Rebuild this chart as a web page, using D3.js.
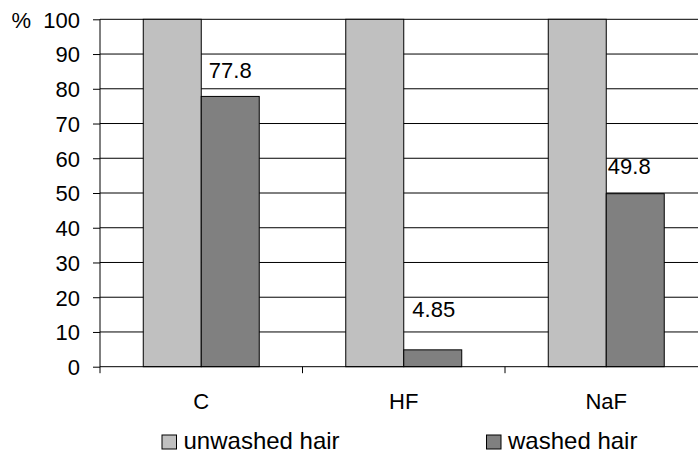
<!DOCTYPE html>
<html lang="en">
<head>
<meta charset="utf-8">
<script src="https://d3js.org/d3.v7.min.js"></script>
<style>
  body { margin: 0; background: #fff; }
  svg { display: block; font-family: "Liberation Sans", Arial, sans-serif; }
</style>
</head>
<body>
<svg width="698" height="457"></svg>
<script>
// chart data
var categories = ["C", "HF", "NaF"];
var seriesNames = ["unwashed hair", "washed hair"];
var unwashed = [100, 100, 100];
var washed = [77.8, 4.85, 49.8];
var washedLabels = ["77.8", "4.85", "49.8"];
var yTicks = [0, 10, 20, 30, 40, 50, 60, 70, 80, 90, 100];

// label nudges (Excel put these by hand)
var labelDx = [0, 1, -6];
var labelDy = [-18, -33, -20];

var colors = ["#c0c0c0", "#808080"];

var svg = d3.select("svg");
var plotLeft = 100, plotRight = 707.5, plotTop = 19.3, plotBottom = 366.7;

var x = d3.scaleBand().domain(categories).range([plotLeft, plotRight]).padding(0);
var x1 = d3.scaleBand().domain(seriesNames).range([0, x.bandwidth()])
    .paddingInner(0).paddingOuter(0.746);
var y = d3.scaleLinear().domain([0, 100]).range([plotBottom, plotTop]);

// gridlines
svg.append("g")
  .selectAll("line")
  .data(yTicks.filter(function(d) { return d > 0; }))
  .enter().append("line")
    .attr("x1", plotLeft).attr("x2", 698)
    .attr("y1", function(d) { return y(d); })
    .attr("y2", function(d) { return y(d); })
    .attr("stroke", "#000").attr("stroke-width", 1);

// bars
var rows = categories.map(function(c, i) {
  return { cat: c, vals: [unwashed[i], washed[i]] };
});

var grp = svg.append("g").selectAll("g")
  .data(rows)
  .enter().append("g")
    .attr("transform", function(d) { return "translate(" + x(d.cat) + ",0)"; });

grp.selectAll("rect")
  .data(function(d) { return d.vals.map(function(v, j) { return { s: seriesNames[j], v: v, j: j }; }); })
  .enter().append("rect")
    .attr("x", function(d) { return x1(d.s); })
    .attr("width", x1.bandwidth())
    .attr("y", function(d) { return y(d.v); })
    .attr("height", function(d) { return y(0) - y(d.v); })
    .attr("fill", function(d) { return colors[d.j]; })
    .attr("stroke", "#000").attr("stroke-width", 1);

// value labels on washed bars
svg.append("g").selectAll("text")
  .data(washed)
  .enter().append("text")
    .attr("x", function(d, i) { return x(categories[i]) + x1(seriesNames[1]) + x1.bandwidth() / 2 + labelDx[i]; })
    .attr("y", function(d, i) { return y(d) + labelDy[i]; })
    .attr("text-anchor", "middle")
    .attr("font-size", 22)
    .attr("fill", "#000")
    .text(function(d, i) { return washedLabels[i]; });

// y axis
var yAxis = svg.append("g")
  .attr("transform", "translate(" + plotLeft + ",0)")
  .call(d3.axisLeft(y).tickValues(yTicks).tickSize(7).tickPadding(13)
    .tickFormat(function(d) { return d === 100 ? "%\u00a0\u00a0100" : d; }));
yAxis.select(".domain").attr("d", "M0," + plotTop + "V" + (plotBottom + 6.5));
yAxis.selectAll("text").attr("font-size", 22).attr("dy", "0.36em");
yAxis.selectAll("line").attr("stroke", "#000");
yAxis.select(".domain").attr("stroke", "#000");
yAxis.attr("font-family", null);

// x axis
var xAxis = svg.append("g")
  .attr("transform", "translate(0," + plotBottom + ")");
xAxis.append("line")
  .attr("x1", plotLeft).attr("x2", 698).attr("y1", 0).attr("y2", 0)
  .attr("stroke", "#000");
xAxis.selectAll(".tk")
  .data(categories.slice(1))
  .enter().append("line")
    .attr("class", "tk")
    .attr("x1", function(d) { return x(d); })
    .attr("x2", function(d) { return x(d); })
    .attr("y1", 0).attr("y2", 6.5)
    .attr("stroke", "#000");
xAxis.selectAll("text")
  .data(categories)
  .enter().append("text")
    .attr("x", function(d) { return x(d) + x.bandwidth() / 2; })
    .attr("y", 42.3)
    .attr("text-anchor", "middle")
    .attr("font-size", 22)
    .text(function(d) { return d; });

// legend
var legX = [162, 486.5];
var leg = svg.append("g").selectAll("g")
  .data(seriesNames)
  .enter().append("g")
    .attr("transform", function(d, i) { return "translate(" + legX[i] + ",435)"; });
leg.append("rect")
  .attr("width", 14.5).attr("height", 14)
  .attr("fill", function(d, i) { return colors[i]; })
  .attr("stroke", "#000").attr("stroke-width", 1);
leg.append("text")
  .attr("x", 21.5).attr("y", 14)
  .attr("font-size", 24)
  .text(function(d) { return d; });
</script>
</body>
</html>
